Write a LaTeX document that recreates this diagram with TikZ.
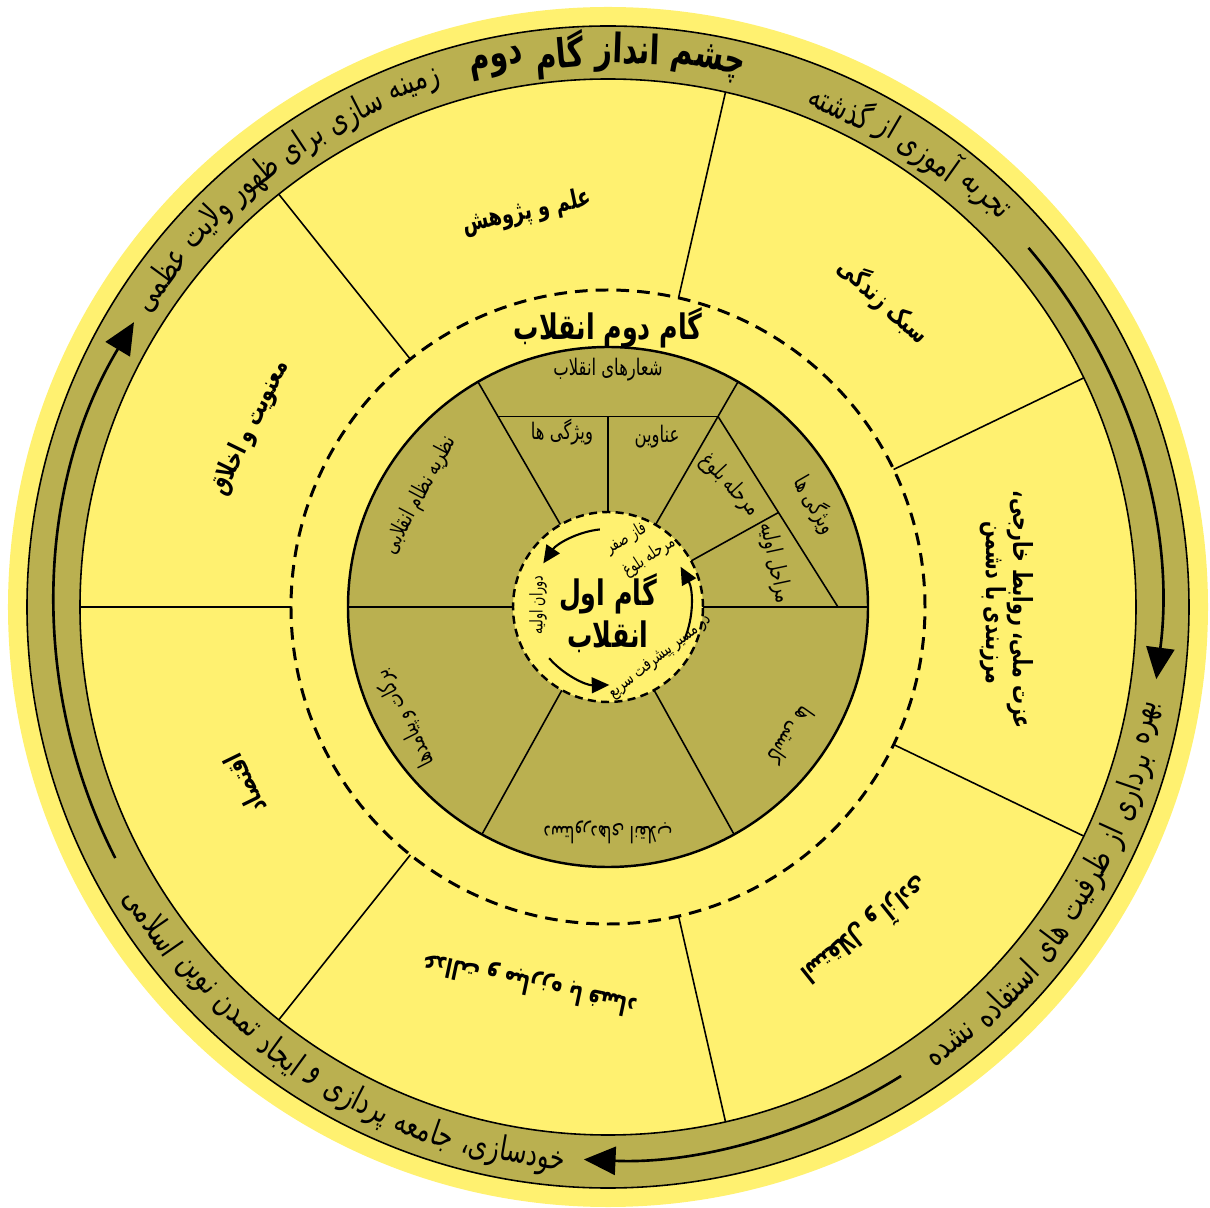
\documentclass[tikz,border=0pt]{standalone}
\usepackage{fontspec}
\usepackage{tikz}
\usetikzlibrary{arrows.meta}

\newfontfamily\fa[Script=Arabic, FakeStretch=0.72]{DejaVu Sans}
\TeXXeTstate=1

\definecolor{lemon}{RGB}{255,241,112}
\definecolor{bandolive}{RGB}{186,176,80}

\newcommand\rtl[1]{\beginR#1\endR}
\newcommand\bandfont{\fa\fontsize{9.6}{11}\selectfont}
\newcommand\visionfont{\fa\bfseries\fontsize{11.5}{13}\selectfont}

% words of the band texts
\def\visionwords{چشم,انداز,گام,دوم}
\def\zaminewords{زمینه,سازی,برای,ظهور,ولایت,عظمی}
\def\tajrobewords{تجربه,آموزی,از,گذشته}
\def\bahrewords{بهره,برداری,از,ظرفیت,های,استفاده,نشده}
\def\khodsaziwords{خودسازی،,جامعه,پردازی,و,ایجاد,تمدن,نوین,اسلامی}

% widths are taken before the picture
\newlength\arcsp
\newlength\arctot
\newcommand\measurewords[3]{% name, font, word list
  \setbox0\hbox{#2\ }\global\arcsp=\wd0
  \global\advance\arcsp by 0.5pt
  \global\arctot=0pt
  \foreach \w [count=\i] in #3{%
    \setbox0\hbox{#2\beginR\w\endR}%
    \expandafter\xdef\csname arcwd#1\i\endcsname{\the\wd0}%
    \global\advance\arctot by \wd0
    \global\advance\arctot by \arcsp
  }%
  \global\advance\arctot by -\arcsp
  \expandafter\xdef\csname arctot#1\endcsname{\the\arctot}%
  \expandafter\xdef\csname arcsp#1\endcsname{\the\arcsp}%
}

% words set one by one round a circle
\newcommand\arcwords[6]{% name, radius, mid angle, side (1 up, -1 down), font, word list
  \edef\tmptot{\csname arctot#1\endcsname}%
  \edef\tmpsp{\csname arcsp#1\endcsname}%
  \pgfmathsetmacro\arcspan{\tmptot/(#2*28.45274)*57.29578}
  \pgfmathsetmacro\sspan{\tmpsp/(#2*28.45274)*57.29578}
  \pgfmathsetmacro\arcpos{#3-#4*\arcspan/2}
  \global\let\arcposg\arcpos
  \foreach \w [count=\i] in #6{
    \edef\tmpwd{\csname arcwd#1\i\endcsname}
    \pgfmathsetmacro\wspan{\tmpwd/(#2*28.45274)*57.29578}
    \pgfmathsetmacro\wmid{\arcposg+#4*\wspan/2}
    \pgfmathsetmacro\wrot{\wmid-#4*90}
    \node[inner sep=0pt, rotate=\wrot] (#1-\i) at (\wmid:#2) {#5\beginR\w\endR};
    \pgfmathsetmacro\nextpos{\arcposg+#4*(\wspan+\sspan)}
    \global\let\arcposg\nextpos
  }
}

\begin{document}
\measurewords{vision}{\visionfont}{\visionwords}
\measurewords{zamine}{\bandfont}{\zaminewords}
\measurewords{tajrobe}{\bandfont}{\tajrobewords}
\measurewords{bahre}{\bandfont}{\bahrewords}
\measurewords{khodsazi}{\bandfont}{\khodsaziwords}
\begin{tikzpicture}[
    thinline/.style={line width=0.45pt},
    trackline/.style={line width=0.75pt, -{Triangle[length=9pt,width=8pt]}},
    cycline/.style={line width=0.6pt, -{Triangle[length=5pt,width=4.5pt]}},
    ringlbl/.style={font=\fa\bfseries\fontsize{7.5}{9}\selectfont, inner sep=0pt, align=center},
    sectlbl/.style={font=\fa\fontsize{6.5}{8}\selectfont, inner sep=0pt, align=center},
    tinylbl/.style={font=\fa\fontsize{5}{6}\selectfont, inner sep=0pt}
  ]
  \useasboundingbox (-6.08,-6.00) rectangle (6.02,6.07);

  % outer disc and band
  \fill[lemon] (0,0) circle (6.0);
  \draw[thinline, fill=bandolive] (0,0) circle (5.81);
  \draw[thinline, fill=lemon] (0,0) circle (5.28);

  % seven parts of the ring
  \foreach \a in {0,...,6}
    \draw[thinline] ({25.714+\a*51.429}:3.17) -- ({25.714+\a*51.429}:5.28);

  \draw[line width=0.85pt, dash pattern=on 3.6pt off 2.3pt] (0,0) circle (3.17);

  % inner disc
  \draw[line width=0.7pt, fill=bandolive] (0,0) circle (2.60);
  \draw[thinline] (0.95,0) -- (2.60,0);
  \draw[thinline] (-0.95,0) -- (-2.60,0);
  \draw[thinline] (120:0.95) -- (120:2.60);
  \draw[thinline] (60:0.95) -- (60:2.60);
  \draw[thinline] (120:2.20) -- (60:2.20);
  \draw[thinline] (90:0.95) -- (0,1.905);
  \draw[thinline] (60:2.20) -- (2.30,0);
  \draw[thinline] (29:0.95) -- (1.705,0.945);
  \draw[thinline] (241:0.95) -- (241:2.60);
  \draw[thinline] (299:0.95) -- (299:2.60);

  \draw[line width=0.7pt, dash pattern=on 2.3pt off 1.5pt, fill=lemon] (0,0) circle (0.95);

  % arrows in the band
  \draw[trackline] (40.5:5.53) arc[start angle=40.5, end angle=-7.5, radius=5.53];
  \draw[trackline] (-58:5.53) arc[start angle=-58, end angle=-92.5, radius=5.53];
  \draw[trackline] (207:5.53) arc[start angle=207, end angle=149, radius=5.53];

  % arrows in the centre
  \draw[cycline] (96:0.78) arc[start angle=96, end angle=146, radius=0.78];
  \draw[cycline] (221:0.78) arc[start angle=221, end angle=271, radius=0.78];
  \draw[cycline] (-23:0.83) arc[start angle=-23, end angle=29, radius=0.83];

  % band texts
  \arcwords{vision}{5.545}{90.1}{1}{\visionfont}{\visionwords}
  \arcwords{zamine}{5.545}{127.5}{1}{\bandfont}{\zaminewords}
  \arcwords{tajrobe}{5.545}{56.5}{1}{\bandfont}{\tajrobewords}
  \arcwords{bahre}{5.545}{-32.3}{-1}{\bandfont}{\bahrewords}
  \arcwords{khodsazi}{5.545}{238.2}{-1}{\bandfont}{\khodsaziwords}

  % ring labels
  \node[ringlbl, rotate=-42] (sabk) at (48:4.12) {\rtl{سبک زندگی}};
  \node[ringlbl, rotate=12] (elm) at (101.6:4.03) {\rtl{علم و پژوهش}};
  \node[ringlbl, rotate=64] (maanaviat) at (153.4:4.0) {\rtl{معنویت و اخلاق}};
  \node[ringlbl, rotate=116] (eghtesad) at (206:4.04) {\rtl{اقتصاد}};
  \node[ringlbl, rotate=168] (edalat) at (258.3:3.84) {\rtl{عدالت و مبارزه با فساد}};
  \node[ringlbl, rotate=218.5] (esteghlal) at (308.5:4.13) {\rtl{استقلال و آزادی}};
  \node[ringlbl, rotate=-90] (ezzat) at (-0.4:4.12) {\rtl{عزت ملی، روابط خارجی،}};
  \node[ringlbl, rotate=-90] (marz) at (0.6:3.85) {\rtl{مرزبندی با دشمن}};

  \node[font=\fa\bfseries\fontsize{10}{12}\selectfont, inner sep=0pt] (gam2) at (0,2.79) {\rtl{گام دوم انقلاب}};

  % inner disc labels
  \node[sectlbl] (shoar) at (0,2.37) {\rtl{شعارهای انقلاب}};
  \node[sectlbl] (vizhegi1) at (-0.46,1.75) {\rtl{ویژگی ها}};
  \node[sectlbl] (anavin) at (0.49,1.70) {\rtl{عناوین}};
  \node[sectlbl, rotate=62] (nazarie) at (-1.88,1.12) {\rtl{نظریه نظام انقلابی}};
  \node[sectlbl, rotate=-60] (vizhegi2) at (2.07,1.02) {\rtl{ویژگی ها}};
  \node[sectlbl, rotate=-47] (bolugh) at (1.22,1.22) {\rtl{مرحله بلوغ}};
  \node[sectlbl, rotate=-78] (marahel) at (1.67,0.44) {\rtl{مراحل اولیه}};
  \node[sectlbl, rotate=117] (barakat) at (-2.03,-1.11) {\rtl{برکات و پیامدها}};
  \node[sectlbl, rotate=180] (dastavard) at (0,-2.25) {\rtl{دستاوردهای انقلاب}};
  \node[sectlbl, rotate=-125] (kasti) at (1.82,-1.28) {\rtl{کاستی ها}};

  % centre
  \node[font=\fa\bfseries\fontsize{10}{12}\selectfont, align=center, inner sep=0pt] (gam1) at (0,-0.06) {\rtl{گام اول}\\\rtl{انقلاب}};
  \node[tinylbl, rotate=30] (faz) at (0.18,0.68) {\rtl{فاز صفر}};
  \node[tinylbl, rotate=33] (bolugh0) at (0.41,0.50) {\rtl{مرحله بلوغ}};
  \node[tinylbl, rotate=90] (doran) at (-0.70,0.02) {\rtl{دوران اولیه}};
  \node[tinylbl, rotate=38] (masir) at (0.52,-0.50) {\rtl{در مسیر پیشرفت سریع}};
\end{tikzpicture}
\end{document}
